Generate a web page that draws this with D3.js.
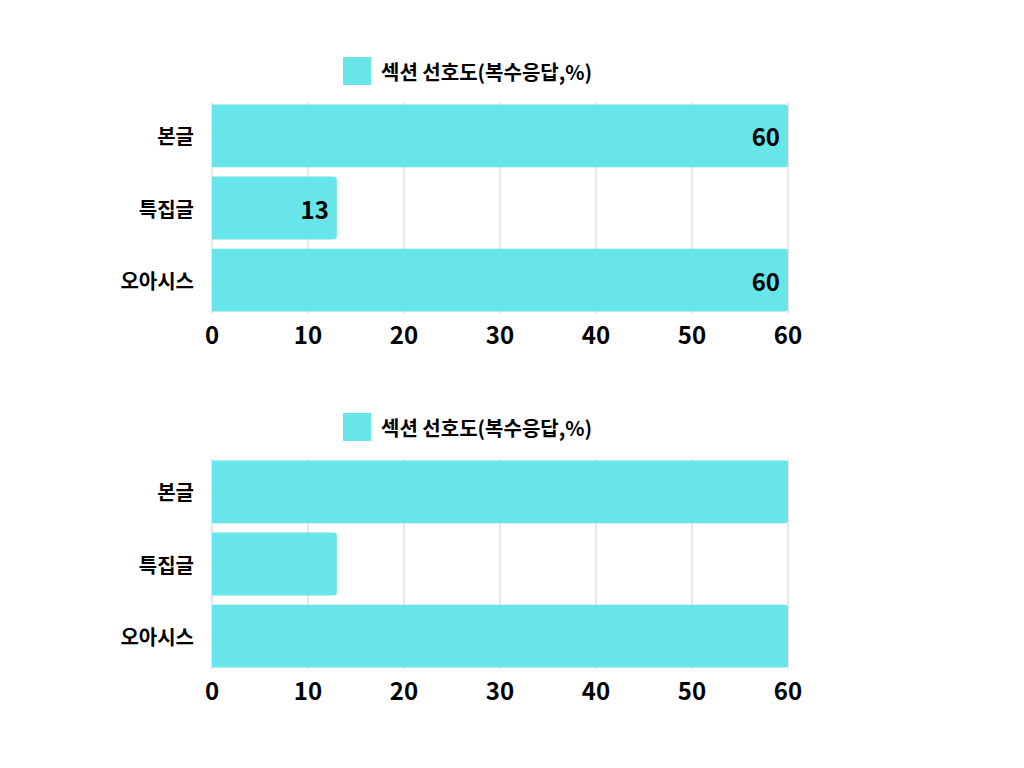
<!DOCTYPE html>
<html><head><meta charset="utf-8">
<script src="https://cdn.jsdelivr.net/npm/d3@7"></script>
<style>body{margin:0;background:#fff}text{font-family:"Noto Sans CJK KR","Noto Sans",sans-serif;font-weight:700;fill:#000}</style>
</head><body><svg id="c" width="1024" height="768"></svg>
<script>
var categories = ["본글", "특집글", "오아시스"];
var values = [60, 13, 60];
var ticks = [0, 10, 20, 30, 40, 50, 60];
var legendLabel = "섹션 선호도(복수응답,%)";
var barColor = "#68e5e8";

var svg = d3.select("#c");
var x = d3.scaleLinear().domain([0, 60]).range([212, 788]);

function drawChart(top, showLabels) {
  var y = d3.scaleBand().domain(categories).range([top, top + 210]).paddingInner(0.13).paddingOuter(0.02);
  var g = svg.append("g");
  // legend
  g.append("rect").attr("x", 343).attr("y", top - 46).attr("width", 28).attr("height", 28).attr("fill", barColor);
  g.append("text").attr("x", 381).attr("y", top - 32).attr("dominant-baseline", "central")
    .attr("font-size", 20).text(legendLabel);
  // grid
  g.selectAll(".grid").data(ticks).enter().append("line")
    .attr("x1", d => x(d)).attr("x2", d => x(d))
    .attr("y1", top).attr("y2", top + 210)
    .attr("stroke", "#d0d0d0").attr("stroke-width", 1);
  // bars
  g.selectAll(".bar").data(values).enter().append("path")
    .attr("fill", barColor)
    .attr("d", function (d, i) {
      var x0 = x(0), x1 = x(d), y0 = y(categories[i]), h = y.bandwidth(), r = 3;
      return "M" + x0 + "," + y0 + "H" + (x1 - r) + "Q" + x1 + "," + y0 + " " + x1 + "," + (y0 + r) +
        "V" + (y0 + h - r) + "Q" + x1 + "," + (y0 + h) + " " + (x1 - r) + "," + (y0 + h) + "H" + x0 + "Z";
    });
  if (showLabels) {
    g.selectAll(".lbl").data(values).enter().append("text")
      .attr("x", d => x(d) - 8).attr("y", (d, i) => y(categories[i]) + y.bandwidth() / 2)
      .attr("text-anchor", "end").attr("dominant-baseline", "central")
      .attr("font-size", 24).text(d => d);
  }
  // category labels
  g.selectAll(".cat").data(categories).enter().append("text")
    .attr("x", 194).attr("y", d => y(d) + y.bandwidth() / 2)
    .attr("text-anchor", "end").attr("dominant-baseline", "central")
    .attr("font-size", 20).text(d => d);
  // x tick labels
  g.selectAll(".tick").data(ticks).enter().append("text")
    .attr("x", d => x(d)).attr("y", top + 230)
    .attr("text-anchor", "middle").attr("dominant-baseline", "central")
    .attr("font-size", 24).text(d => d);
}

drawChart(103, true);
drawChart(459, false);
</script></body></html>
